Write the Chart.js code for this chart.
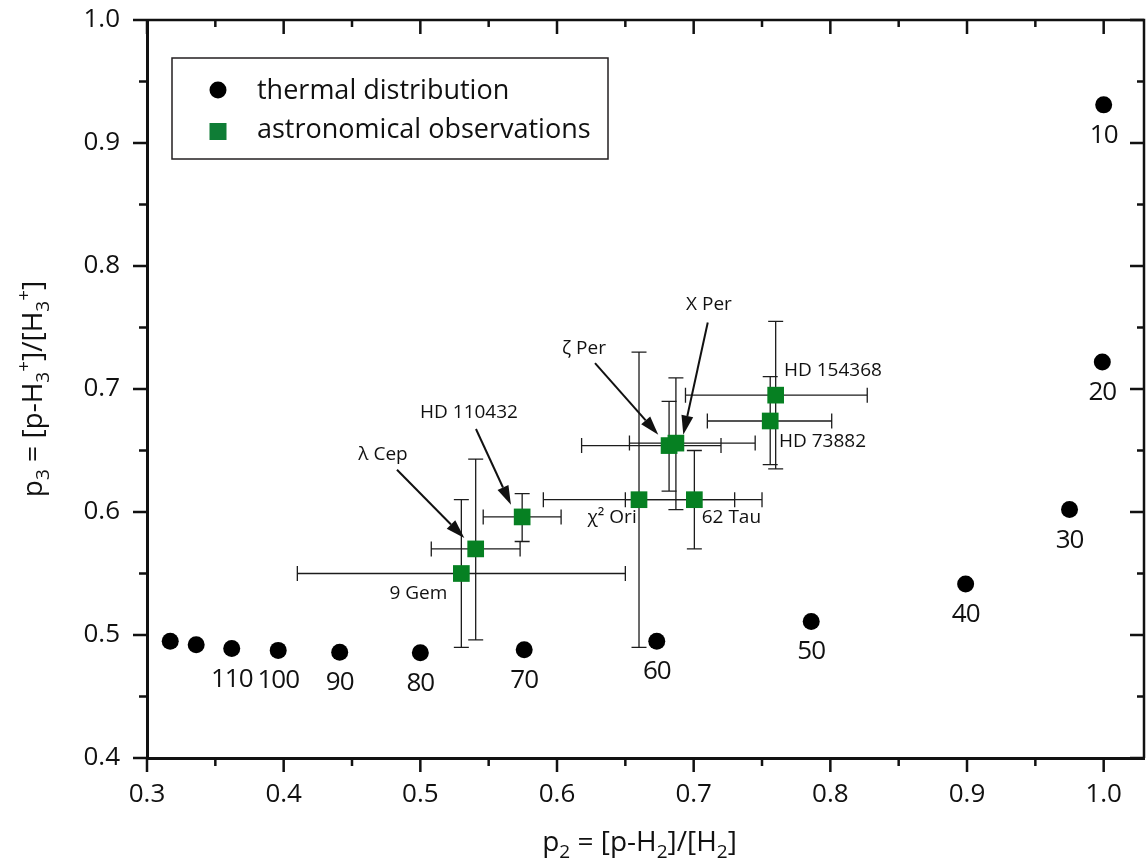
<!DOCTYPE html>
<html>
<head>
<meta charset="utf-8">
<script src="https://cdn.jsdelivr.net/npm/chart.js@4.4.0/dist/chart.umd.min.js"></script>
<style>
  html, body { margin: 0; padding: 0; background: #fff; }
  canvas { display: block; }
</style>
</head>
<body>
<canvas id="ortoParaChart" width="1146" height="868"></canvas>
<script>
// thermal distribution (temperature labels in K)
const thermalP2 = [0.317, 0.336, 0.362, 0.396, 0.441, 0.500, 0.576, 0.673, 0.786, 0.899, 0.975, 0.999, 1.000];
const thermalP3 = [0.495, 0.492, 0.489, 0.4875, 0.486, 0.4855, 0.488, 0.495, 0.511, 0.5415, 0.602, 0.722, 0.931];
const thermalLabels = [null, null, '110', '100', '90', '80', '70', '60', '50', '40', '30', '20', '10'];

// astronomical observations with error ranges
const obsNames = ['9 Gem', 'λ Cep', 'HD 110432', 'χ² Ori', '62 Tau', 'ζ Per', 'X Per', 'HD 73882', 'HD 154368'];
const obsP2 = [0.530, 0.5405, 0.5745, 0.660, 0.7005, 0.682, 0.687, 0.756, 0.760];
const obsP3 = [0.550, 0.570, 0.596, 0.610, 0.610, 0.654, 0.656, 0.674, 0.695];
const obsP2Lo = [0.41, 0.508, 0.546, 0.59, 0.65, 0.618, 0.653, 0.710, 0.694];
const obsP2Hi = [0.65, 0.573, 0.603, 0.73, 0.75, 0.72, 0.745, 0.801, 0.827];
const obsP3Lo = [0.49, 0.496, 0.576, 0.49, 0.57, 0.617, 0.602, 0.6385, 0.635];
const obsP3Hi = [0.61, 0.643, 0.615, 0.73, 0.65, 0.69, 0.709, 0.710, 0.755];

// axis ticks
const xMajorTicks = [0.3, 0.4, 0.5, 0.6, 0.7, 0.8, 0.9, 1.0];
const xMinorTicks = [0.35, 0.45, 0.55, 0.65, 0.75, 0.85, 0.95];
const yMajorTicks = [0.4, 0.5, 0.6, 0.7, 0.8, 0.9, 1.0];
const yMinorTicks = [0.45, 0.55, 0.65, 0.75, 0.85, 0.95];

const FONT = '"Open Sans", "Noto Sans", sans-serif';
const GREEN = '#068022';
const INK = '#111111';

// star labels (data coordinates) and arrows
const starLabels = [
  { text: 'λ Cep', x: 0.4727, y: 0.6466, align: 'center' },
  { text: 'HD 110432', x: 0.5356, y: 0.6805, align: 'center' },
  { text: 'ζ Per', x: 0.6197, y: 0.7328, align: 'center' },
  { text: 'X Per', x: 0.7112, y: 0.7685, align: 'center' },
  { text: 'HD 154368', x: 0.7661, y: 0.7151, align: 'left' },
  { text: 'HD 73882', x: 0.7624, y: 0.6569, align: 'left' },
  { text: 'χ² Ori', x: 0.6583, y: 0.5951, align: 'right' },
  { text: '62 Tau', x: 0.7059, y: 0.5951, align: 'left' },
  { text: '9 Gem', x: 0.5197, y: 0.5336, align: 'right' }
];
const starArrows = [
  { x1: 0.4829, y1: 0.6344, x2: 0.5322, y2: 0.5789 },
  { x1: 0.5407, y1: 0.6675, x2: 0.5663, y2: 0.6059 },
  { x1: 0.6278, y1: 0.7211, x2: 0.6741, y2: 0.6629 },
  { x1: 0.7103, y1: 0.7541, x2: 0.6924, y2: 0.6629 }
];

function xy(arrX, arrY) {
  return arrX.map((v, i) => ({ x: v, y: arrY[i] }));
}

// text with sub/superscripts
function drawRich(ctx, parts, x, y, size) {
  const small = Math.round(size * 0.68);
  let total = 0;
  parts.forEach(p => {
    ctx.font = (p.s ? small : size) + 'px ' + FONT;
    p.w = ctx.measureText(p.t).width;
    total += p.w;
  });
  let cx = x - total / 2;
  ctx.textAlign = 'left';
  ctx.textBaseline = 'alphabetic';
  parts.forEach(p => {
    ctx.font = (p.s ? small : size) + 'px ' + FONT;
    let dy = 0;
    if (p.s === 'sub') dy = size * 0.25;
    if (p.s === 'sup') dy = -size * 0.42;
    ctx.fillText(p.t, cx, y + dy);
    cx += p.w;
  });
}

function drawArrow(ctx, x1, y1, x2, y2) {
  const ang = Math.atan2(y2 - y1, x2 - x1);
  const headLen = 19, headW = 6;
  const bx = x2 - headLen * Math.cos(ang);
  const by = y2 - headLen * Math.sin(ang);
  ctx.beginPath();
  ctx.moveTo(x1, y1);
  ctx.lineTo(bx, by);
  ctx.stroke();
  ctx.beginPath();
  ctx.moveTo(x2, y2);
  ctx.lineTo(bx + headW * Math.sin(ang), by - headW * Math.cos(ang));
  ctx.lineTo(bx - headW * Math.sin(ang), by + headW * Math.cos(ang));
  ctx.closePath();
  ctx.fill();
}

const extras = {
  id: 'extras',
  beforeDatasetsDraw(chart) {
    const ctx = chart.ctx, xs = chart.scales.x, ys = chart.scales.y;
    ctx.save();
    ctx.strokeStyle = '#1c1c1c';
    ctx.lineWidth = 1.3;
    const cap = 7.5;
    obsP2.forEach((v, i) => {
      const px = xs.getPixelForValue(v), py = ys.getPixelForValue(obsP3[i]);
      const xl = xs.getPixelForValue(obsP2Lo[i]), xh = xs.getPixelForValue(obsP2Hi[i]);
      const yl = ys.getPixelForValue(obsP3Lo[i]), yh = ys.getPixelForValue(obsP3Hi[i]);
      ctx.beginPath();
      ctx.moveTo(xl, py); ctx.lineTo(xh, py);
      ctx.moveTo(xl, py - cap); ctx.lineTo(xl, py + cap);
      ctx.moveTo(xh, py - cap); ctx.lineTo(xh, py + cap);
      ctx.moveTo(px, yl); ctx.lineTo(px, yh);
      ctx.moveTo(px - cap, yl); ctx.lineTo(px + cap, yl);
      ctx.moveTo(px - cap, yh); ctx.lineTo(px + cap, yh);
      ctx.stroke();
    });
    ctx.restore();
  },
  afterDatasetsDraw(chart) {
    const ctx = chart.ctx, xs = chart.scales.x, ys = chart.scales.y;
    ctx.save();
    // temperature labels
    ctx.fillStyle = INK;
    ctx.font = '26px ' + FONT;
    ctx.letterSpacing = '-1px';
    ctx.textAlign = 'center';
    ctx.textBaseline = 'alphabetic';
    thermalLabels.forEach((t, i) => {
      if (!t) return;
      ctx.fillText(t, xs.getPixelForValue(thermalP2[i]), ys.getPixelForValue(thermalP3[i]) + 38);
    });
    ctx.letterSpacing = '0px';
    // star names
    ctx.font = '19px ' + FONT;
    ctx.textBaseline = 'middle';
    starLabels.forEach(l => {
      ctx.textAlign = l.align;
      ctx.fillText(l.text, xs.getPixelForValue(l.x), ys.getPixelForValue(l.y));
    });
    ctx.strokeStyle = INK;
    ctx.lineWidth = 2;
    starArrows.forEach(a => {
      drawArrow(ctx, xs.getPixelForValue(a.x1), ys.getPixelForValue(a.y1),
                xs.getPixelForValue(a.x2), ys.getPixelForValue(a.y2));
    });
    ctx.restore();
  },
  afterDraw(chart) {
    const ctx = chart.ctx, xs = chart.scales.x, ys = chart.scales.y;
    const a = chart.chartArea;
    ctx.save();
    ctx.strokeStyle = INK;
    ctx.lineWidth = 2.5;
    // top and right frame
    ctx.beginPath();
    ctx.moveTo(a.left, a.top); ctx.lineTo(a.right, a.top); ctx.lineTo(a.right, a.bottom);
    ctx.stroke();
    // ticks
    ctx.beginPath();
    xMajorTicks.forEach(v => {
      const p = xs.getPixelForValue(v);
      ctx.moveTo(p, a.bottom); ctx.lineTo(p, a.bottom + 14);
      ctx.moveTo(p, a.top); ctx.lineTo(p, a.top + 14);
    });
    xMinorTicks.forEach(v => {
      const p = xs.getPixelForValue(v);
      ctx.moveTo(p, a.bottom); ctx.lineTo(p, a.bottom + 8);
      ctx.moveTo(p, a.top); ctx.lineTo(p, a.top + 7);
    });
    yMajorTicks.forEach(v => {
      const p = ys.getPixelForValue(v);
      ctx.moveTo(a.left - 14, p); ctx.lineTo(a.left, p);
      ctx.moveTo(a.right - 14, p); ctx.lineTo(a.right, p);
    });
    yMinorTicks.forEach(v => {
      const p = ys.getPixelForValue(v);
      ctx.moveTo(a.left - 8, p); ctx.lineTo(a.left, p);
      ctx.moveTo(a.right - 7, p); ctx.lineTo(a.right, p);
    });
    ctx.stroke();

    // legend
    const lx = a.left + 25, ly = a.top + 38, lw = 436, lh = 101;
    ctx.lineWidth = 1.5;
    ctx.strokeStyle = '#231f20';
    ctx.strokeRect(lx, ly, lw, lh);
    ctx.fillStyle = '#000';
    ctx.beginPath();
    ctx.arc(lx + 46, ly + 32, 8.5, 0, Math.PI * 2);
    ctx.fill();
    ctx.fillStyle = '#0f7d36';
    ctx.fillRect(lx + 46 - 8.5, ly + 73.5 - 8.5, 17, 17);
    ctx.fillStyle = INK;
    ctx.font = '27px ' + FONT;
    ctx.textAlign = 'left';
    ctx.textBaseline = 'alphabetic';
    ctx.fillText('thermal distribution', lx + 85, ly + 41);
    ctx.fillText('astronomical observations', lx + 85, ly + 80);

    // axis titles
    drawRich(ctx, [
      { t: 'p' }, { t: '2', s: 'sub' }, { t: ' = [p-H' }, { t: '2', s: 'sub' },
      { t: ']/[H' }, { t: '2', s: 'sub' }, { t: ']' }
    ], (a.left + a.right) / 2 - 6, 851, 28);
    ctx.save();
    ctx.translate(42, (a.top + a.bottom) / 2);
    ctx.rotate(-Math.PI / 2);
    drawRich(ctx, [
      { t: 'p' }, { t: '3', s: 'sub' }, { t: ' = [p-H' }, { t: '3', s: 'sub' }, { t: '+', s: 'sup' },
      { t: ']/[H' }, { t: '3', s: 'sub' }, { t: '+', s: 'sup' }, { t: ']' }
    ], 0, 0, 28);
    ctx.restore();
    ctx.restore();
  }
};

function crearGrafico() {
  const ctx = document.getElementById('ortoParaChart').getContext('2d');
  new Chart(ctx, {
    type: 'scatter',
    data: {
      datasets: [
        {
          label: 'thermal distribution',
          data: xy(thermalP2, thermalP3),
          pointStyle: 'circle',
          pointRadius: 8.5,
          pointBorderWidth: 0,
          backgroundColor: '#000',
          borderColor: '#000'
        },
        {
          label: 'astronomical observations',
          data: xy(obsP2, obsP3),
          pointStyle: 'rect',
          pointRadius: 11.8,
          pointBorderWidth: 0,
          backgroundColor: GREEN,
          borderColor: GREEN
        }
      ]
    },
    options: {
      responsive: false,
      animation: false,
      devicePixelRatio: 1,
      layout: { autoPadding: false, padding: { top: 20, right: 2, left: 0, bottom: 0 } },
      plugins: {
        legend: { display: false },
        tooltip: { enabled: false }
      },
      scales: {
        x: {
          type: 'linear',
          min: 0.3,
          max: 1.0295,
          afterBuildTicks: s => { s.ticks = xMajorTicks.map(v => ({ value: v })); },
          afterFit: s => { s.height = 110; s.paddingLeft = 0; s.paddingRight = 0; },
          ticks: {
            font: { family: FONT, size: 26 },
            color: INK,
            padding: 21,
            maxRotation: 0,
            callback: v => v.toFixed(1)
          },
          grid: { display: false, drawTicks: false },
          border: { display: true, width: 3, color: INK }
        },
        y: {
          type: 'linear',
          min: 0.4,
          max: 1.0,
          afterBuildTicks: s => { s.ticks = yMajorTicks.map(v => ({ value: v })); },
          afterFit: s => { s.width = 147; s.paddingTop = 0; s.paddingBottom = 0; },
          ticks: {
            font: { family: FONT, size: 26 },
            color: INK,
            padding: 27,
            callback: v => v.toFixed(1)
          },
          grid: { display: false, drawTicks: false },
          border: { display: true, width: 3, color: INK }
        }
      }
    },
    plugins: [extras]
  });
}

if (document.fonts && document.fonts.load) {
  document.fonts.load('26px "Open Sans"').then(crearGrafico, crearGrafico);
} else {
  crearGrafico();
}
</script>
</body>
</html>
